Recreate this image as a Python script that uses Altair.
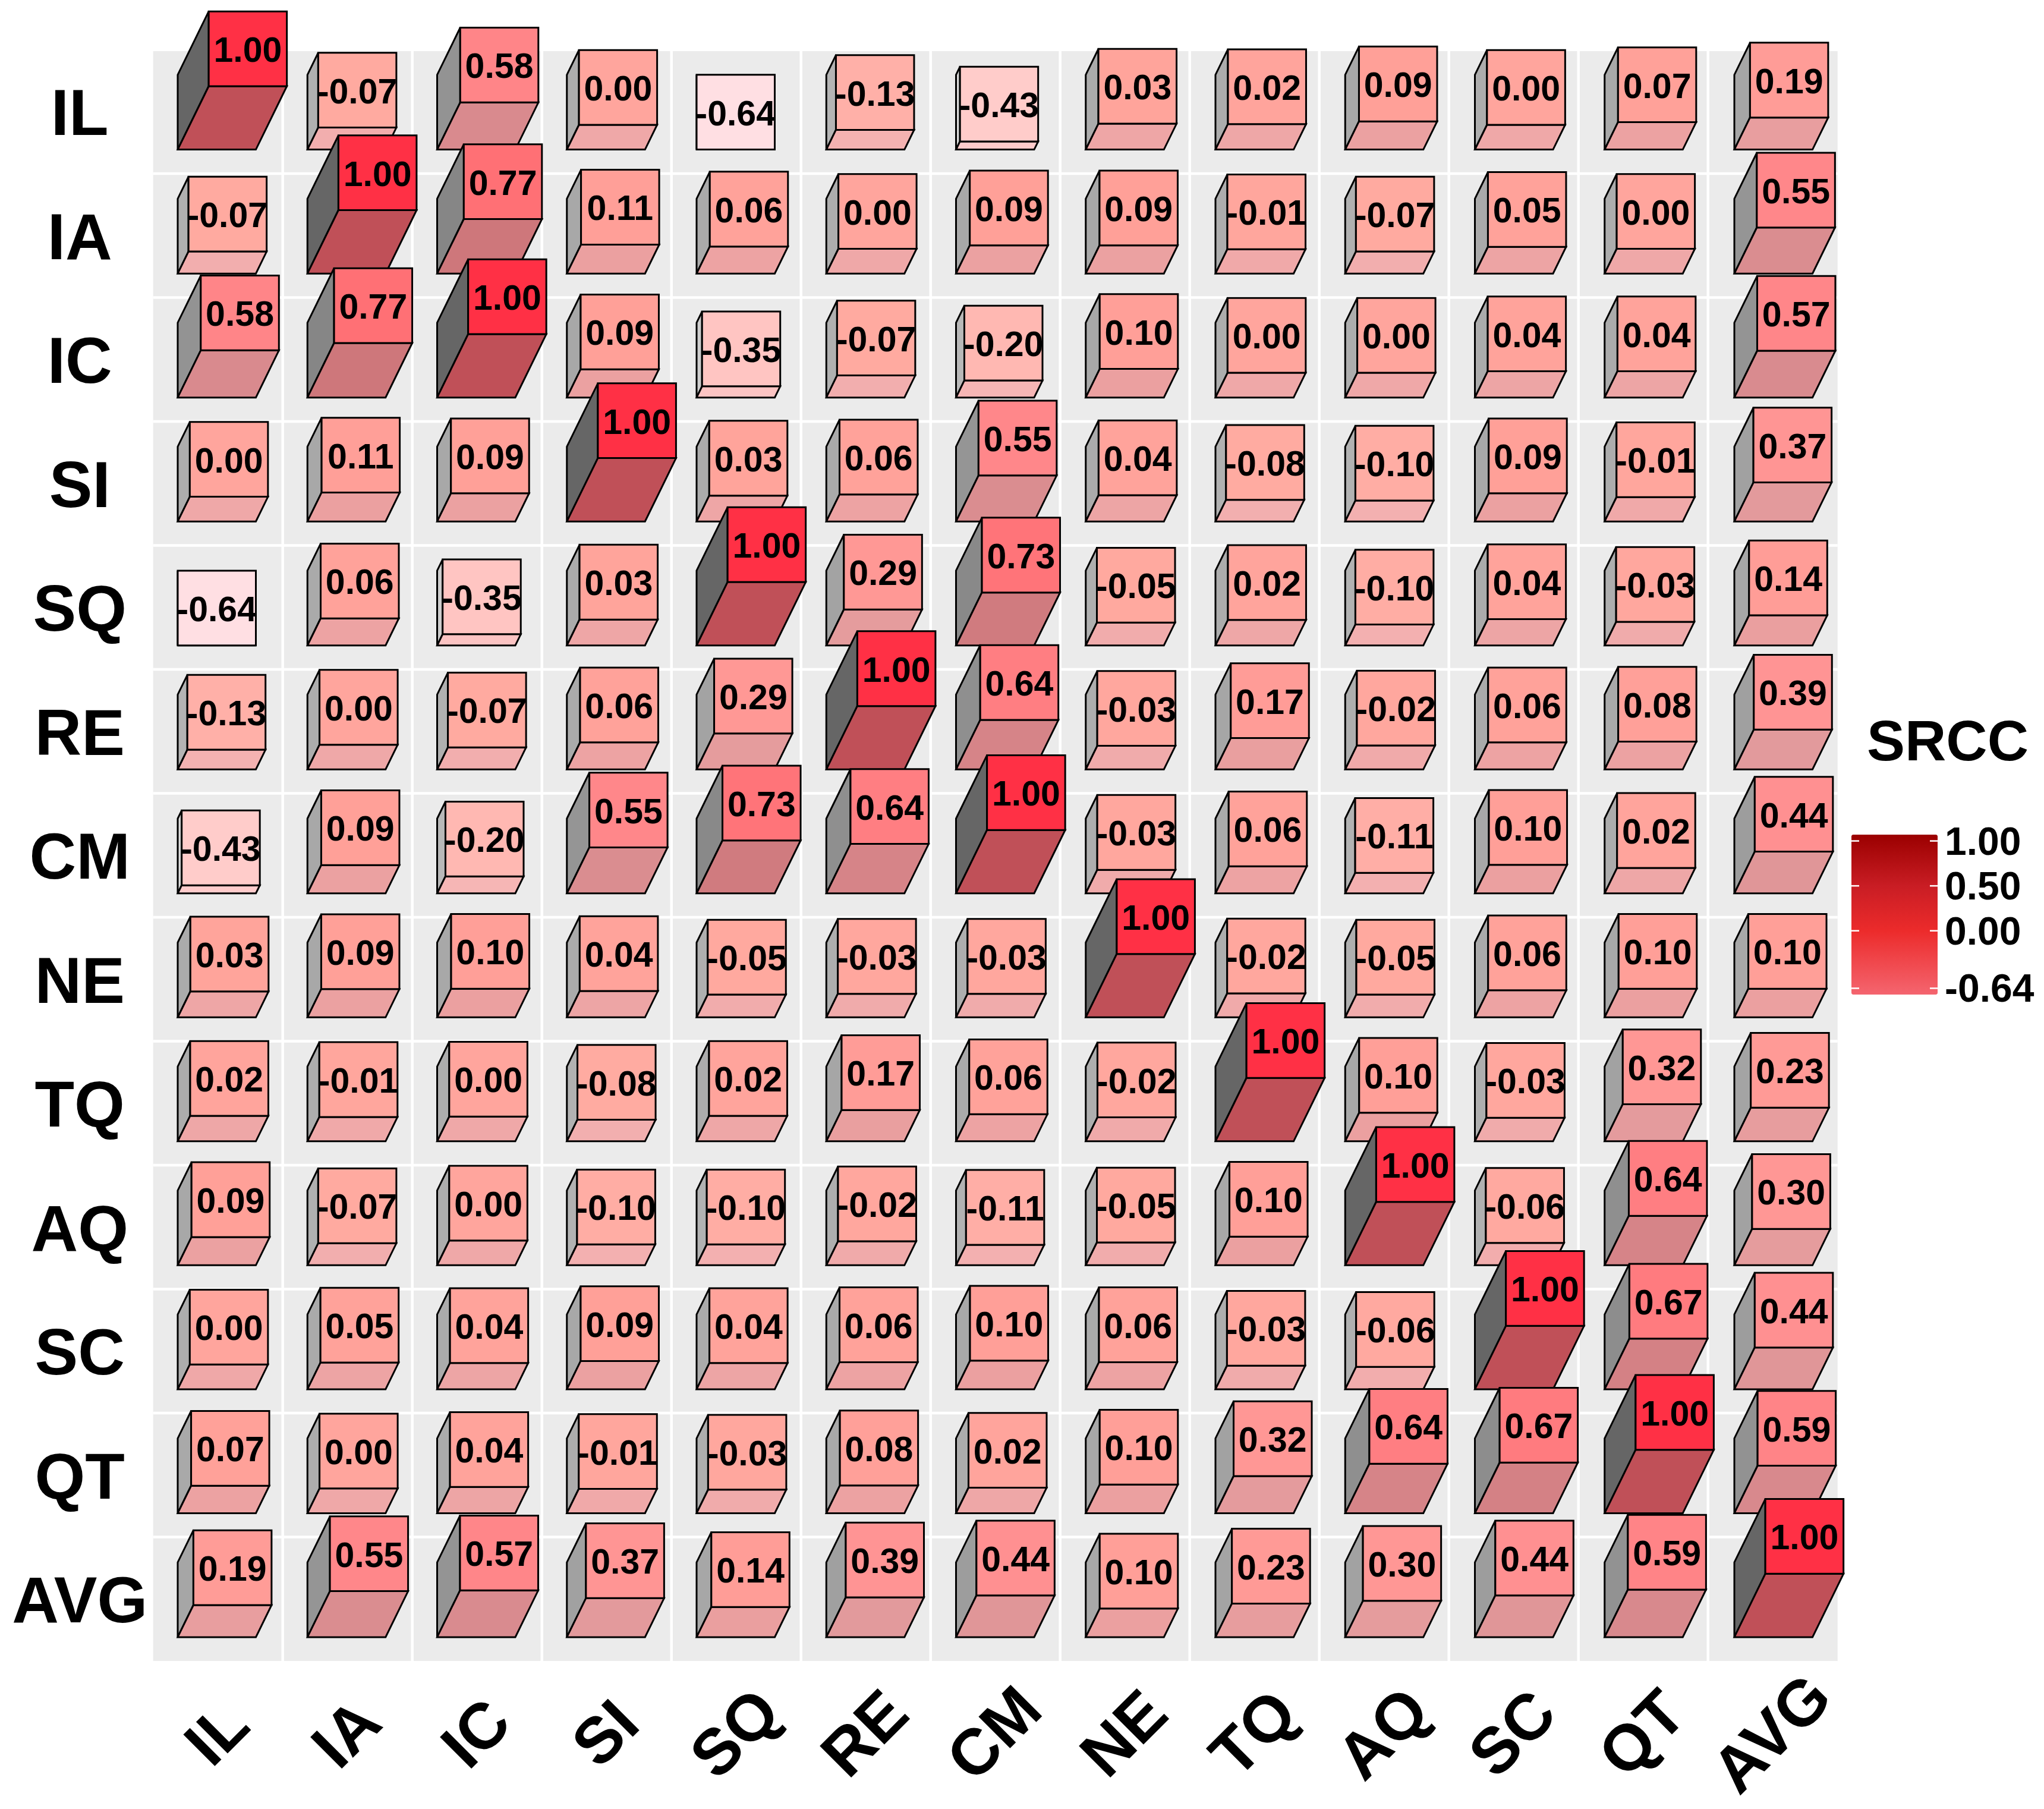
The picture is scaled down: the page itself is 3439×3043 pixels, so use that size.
import altair as alt
import numpy as np
import pandas as pd

names = ["IL", "IA", "IC", "SI", "SQ", "RE", "CM", "NE", "TQ", "AQ", "SC", "QT", "AVG"]

IL = [1.00, -0.07, 0.58, 0.00, -0.64, -0.13, -0.43, 0.03, 0.02, 0.09, 0.00, 0.07, 0.19]
IA = [-0.07, 1.00, 0.77, 0.11, 0.06, 0.00, 0.09, 0.09, -0.01, -0.07, 0.05, 0.00, 0.55]
IC = [0.58, 0.77, 1.00, 0.09, -0.35, -0.07, -0.20, 0.10, 0.00, 0.00, 0.04, 0.04, 0.57]
SI = [0.00, 0.11, 0.09, 1.00, 0.03, 0.06, 0.55, 0.04, -0.08, -0.10, 0.09, -0.01, 0.37]
SQ = [-0.64, 0.06, -0.35, 0.03, 1.00, 0.29, 0.73, -0.05, 0.02, -0.10, 0.04, -0.03, 0.14]
RE = [-0.13, 0.00, -0.07, 0.06, 0.29, 1.00, 0.64, -0.03, 0.17, -0.02, 0.06, 0.08, 0.39]
CM = [-0.43, 0.09, -0.20, 0.55, 0.73, 0.64, 1.00, -0.03, 0.06, -0.11, 0.10, 0.02, 0.44]
NE = [0.03, 0.09, 0.10, 0.04, -0.05, -0.03, -0.03, 1.00, -0.02, -0.05, 0.06, 0.10, 0.10]
TQ = [0.02, -0.01, 0.00, -0.08, 0.02, 0.17, 0.06, -0.02, 1.00, 0.10, -0.03, 0.32, 0.23]
AQ = [0.09, -0.07, 0.00, -0.10, -0.10, -0.02, -0.11, -0.05, 0.10, 1.00, -0.06, 0.64, 0.30]
SC = [0.00, 0.05, 0.04, 0.09, 0.04, 0.06, 0.10, 0.06, -0.03, -0.06, 1.00, 0.67, 0.44]
QT = [0.07, 0.00, 0.04, -0.01, -0.03, 0.08, 0.02, 0.10, 0.32, 0.64, 0.67, 1.00, 0.59]
AVG = [0.19, 0.55, 0.57, 0.37, 0.14, 0.39, 0.44, 0.10, 0.23, 0.30, 0.44, 0.59, 1.00]
matrix = [IL, IA, IC, SI, SQ, RE, CM, NE, TQ, AQ, SC, QT, AVG]

legend_values = [1.00, 0.50, 0.00, -0.64]
legend_domain = [-0.71, 0.0, 0.5, 1.07]
legend_range = ["#F4656F", "#EC2B2B", "#C91D24", "#9B0000"]

shade_stops = [-0.64, -0.43, -0.20, -0.07, 0.10, 0.39, 0.58, 0.77, 1.00]
top_shades = ["#FFDFE3", "#FFCCCA", "#FFB8B2", "#FFAAA0", "#FF9F98", "#FF9494", "#FF8588", "#FF7075", "#FF3045"]
bottom_shades = ["#FFDFE3", "#FFCBCB", "#F6B6B5", "#F2AEAE", "#EBA0A0", "#E29A9C", "#D98A8E", "#CE777B", "#C05058"]
side_shades = ["#EEEEEE", "#D8D8D8", "#B8B8B8", "#B0B0B0", "#A8A8A8", "#A0A0A0", "#939393", "#868686", "#666666"]


def shade(v, shades):
    rgb = [[int(s[i:i + 2], 16) for i in (1, 3, 5)] for s in shades]
    out = [round(float(np.interp(v, shade_stops, [c[k] for c in rgb]))) for k in range(3)]
    return "#%02X%02X%02X" % tuple(out)


# Page layout, in page pixels
PL, PR, PT, PB = 257.7, 3091.7, 86.0, 2794.0
CW, CH = 218.0, 208.5
W, H = PR - PL, PB - PT
X0 = 0.5
Y_TOP = 13.5 - H / CH
FW, FH = 131.5, 125.8
DX, DY = 31.8, 65.0
FLOOR = 0.64
TEXT_DROP = 4.0


def ux(px):
    return X0 + (px - PL) / CW


def uy(px):
    return 13.5 - (PB - px) / CH


AXIS_FONT = "Liberation Sans"
label_expr = "[" + ",".join(f"'{n}'" for n in names) + "][datum.value-1]"
axis_x = alt.Axis(values=list(range(1, 14)), labelExpr=label_expr, title=None, grid=False, ticks=False,
                  domain=False, labelFont=AXIS_FONT, labelFontWeight="bold", labelFontSize=109,
                  labelColor="black", labelAngle=315, labelAlign="center", labelBaseline="middle",
                  labelPadding=124, labelOverlap=False, labelFlush=False, labelBound=False, labelLimit=600)
axis_y = alt.Axis(values=list(range(1, 14)), labelExpr=label_expr, title=None, grid=False, ticks=False,
                  domain=False, labelFont=AXIS_FONT, labelFontWeight="bold", labelFontSize=109,
                  labelColor="black", labelAlign="center", labelBaseline="middle", labelOffset=6,
                  labelPadding=124, labelOverlap=False, labelFlush=False, labelBound=False, labelLimit=600)

x_scale = alt.Scale(domain=[X0, 13.5], nice=False, zero=False)
y_scale = alt.Scale(domain=[13.5, Y_TOP], nice=False, zero=False)
X = lambda f: alt.X(f"{f}:Q", scale=x_scale, axis=axis_x)
Y = lambda f: alt.Y(f"{f}:Q", scale=y_scale, axis=axis_y)

sides, bottoms, tops = [], [], []
for r, vals in enumerate(matrix):
    for c, v in enumerate(vals):
        left = 299.0 + 218.25 * c
        base = 251.6 + 208.53 * r
        dx, dy = (v + FLOOR) * DX, (v + FLOOR) * DY
        box = f"{r}-{c}"
        sc_, bc_, tc_ = shade(v, side_shades), shade(v, bottom_shades), shade(v, top_shades)
        sides += [
            dict(r=r, box=box, fill=sc_, x=ux(left), y=uy(base - FH), y2=uy(base)),
            dict(r=r, box=box, fill=sc_, x=ux(left + dx), y=uy(base - dy - FH), y2=uy(base - dy)),
        ]
        bottoms += [
            dict(r=r, box=box, fill=bc_, y=uy(base), x=ux(left), x2=ux(left + FW)),
            dict(r=r, box=box, fill=bc_, y=uy(base - dy), x=ux(left + dx), x2=ux(left + dx + FW)),
        ]
        tops.append(dict(
            r=r, fill=tc_, label=f"{v:.2f}",
            x=ux(left + dx), x2=ux(left + dx + FW),
            y=uy(base - dy - FH), y2=uy(base - dy),
            tx=ux(left + dx + FW / 2), ty=uy(base - dy - FH / 2 + TEXT_DROP),
        ))
sides = pd.DataFrame(sides)
bottoms = pd.DataFrame(bottoms)
tops = pd.DataFrame(tops)

grid_x = pd.DataFrame({"x": np.arange(1.5, 13.0, 1.0), "y": [Y_TOP] * 12, "y2": [13.5] * 12})
grid_y = pd.DataFrame({"y": np.arange(1.5, 13.0, 1.0), "x": [X0] * 12, "x2": [13.5] * 12})

layers = [
    alt.Chart(grid_x).mark_rule(color="white", strokeWidth=4.5).encode(x=X("x"), y=Y("y"), y2="y2:Q"),
    alt.Chart(grid_y).mark_rule(color="white", strokeWidth=4.5).encode(x=X("x"), x2="x2:Q", y=Y("y")),
]

for r in range(13):
    layers.append(
        alt.Chart(sides[sides.r == r]).mark_area(stroke="black", strokeWidth=3).encode(
            x=X("x"), y=Y("y"), y2="y2:Q", detail="box:N", fill=alt.Fill("fill:N", scale=None)))
    layers.append(
        alt.Chart(bottoms[bottoms.r == r]).mark_area(orient="horizontal", stroke="black", strokeWidth=3).encode(
            y=Y("y"), x=X("x"), x2="x2:Q", detail="box:N", fill=alt.Fill("fill:N", scale=None)))
    t = tops[tops.r == r]
    layers.append(
        alt.Chart(t).mark_rect(stroke="black", strokeWidth=3).encode(
            x=X("x"), x2="x2:Q", y=Y("y"), y2="y2:Q", fill=alt.Fill("fill:N", scale=None)))
    layers.append(
        alt.Chart(t).mark_text(font=AXIS_FONT, fontWeight="bold", fontSize=59, color="black", baseline="middle").encode(
            x=X("tx"), y=Y("ty"), text="label:N"))

# Colour bar: drawn as a gradient rectangle with white ticks; the legend supplies the labels
BAR_L, BAR_R, BAR_T, BAR_B = 3115.0, 3260.0, 1404.0, 1673.0
span = legend_domain[-1] - legend_domain[0]
per_unit = (BAR_B - BAR_T) / span
leg_y = [uy(BAR_T + (legend_domain[-1] - v) * per_unit) for v in legend_values]
ticks = pd.DataFrame({"y": leg_y, "l1": ux(BAR_L), "l2": ux(BAR_L + 13), "r1": ux(BAR_R - 13), "r2": ux(BAR_R)})
bar = pd.DataFrame({"x": [ux(BAR_L)], "x2": [ux(BAR_R)], "y": [uy(BAR_T)], "y2": [uy(BAR_B)]})
bar_fill = alt.LinearGradient(
    gradient="linear", x1=0, x2=0, y1=1, y2=0,
    stops=[alt.GradientStop(color=col, offset=(v - legend_domain[0]) / span)
           for v, col in zip(legend_domain, legend_range)])
layers.append(
    alt.Chart(bar).mark_rect(fill=bar_fill, cornerRadius=3).encode(x=X("x"), x2="x2:Q", y=Y("y"), y2="y2:Q"))

carrier = pd.DataFrame({"v": legend_values, "x": [1.0] * 4, "y": [1.0] * 4})
layers.append(
    alt.Chart(carrier).mark_point(size=0, opacity=0.001).encode(
        x=X("x"), y=Y("y"),
        color=alt.Color("v:Q", scale=alt.Scale(domain=legend_domain, range=legend_range, nice=False, zero=False),
                        legend=alt.Legend(
                            title=None, orient="none", legendX=BAR_L - PL, legendY=BAR_T - PT + 3, padding=0,
                            values=legend_values, labelExpr="replace(datum.label, '\u2212', '-')",
                            format=".2f", direction="vertical", type="gradient",
                            gradientLength=BAR_B - BAR_T, gradientThickness=BAR_R - BAR_L,
                            gradientStrokeWidth=0, gradientOpacity=0,
                            labelFont=AXIS_FONT, labelFontWeight="bold", labelFontSize=66,
                            labelColor="black", labelOffset=12, labelOverlap=False, labelLimit=400))))
layers.append(alt.Chart(ticks).mark_rule(color="white", strokeWidth=2.5).encode(x=X("l1"), x2="l2:Q", y=Y("y")))
layers.append(alt.Chart(ticks).mark_rule(color="white", strokeWidth=2.5).encode(x=X("r1"), x2="r2:Q", y=Y("y")))

legend_title = pd.DataFrame({"x": [ux(3277.0)], "y": [uy(1279.0)], "label": ["SRCC"]})
layers.append(
    alt.Chart(legend_title).mark_text(font=AXIS_FONT, fontWeight="bold", fontSize=96, color="black",
                                      baseline="alphabetic", align="center").encode(
        x=X("x"), y=Y("y"), text="label:N"))

chart = alt.layer(*layers).properties(
    width=W, height=H,
    padding={"left": PL - 8, "top": PT - 8, "right": 3423 - (PR - 8), "bottom": 3027 - (PB - 8)},
    autosize=alt.AutoSizeParams(type="none"),
    background="white",
).configure_view(fill="#EBEBEB", stroke=None)

chart.save("out.html", embed_options={"renderer": "svg", "actions": False})
